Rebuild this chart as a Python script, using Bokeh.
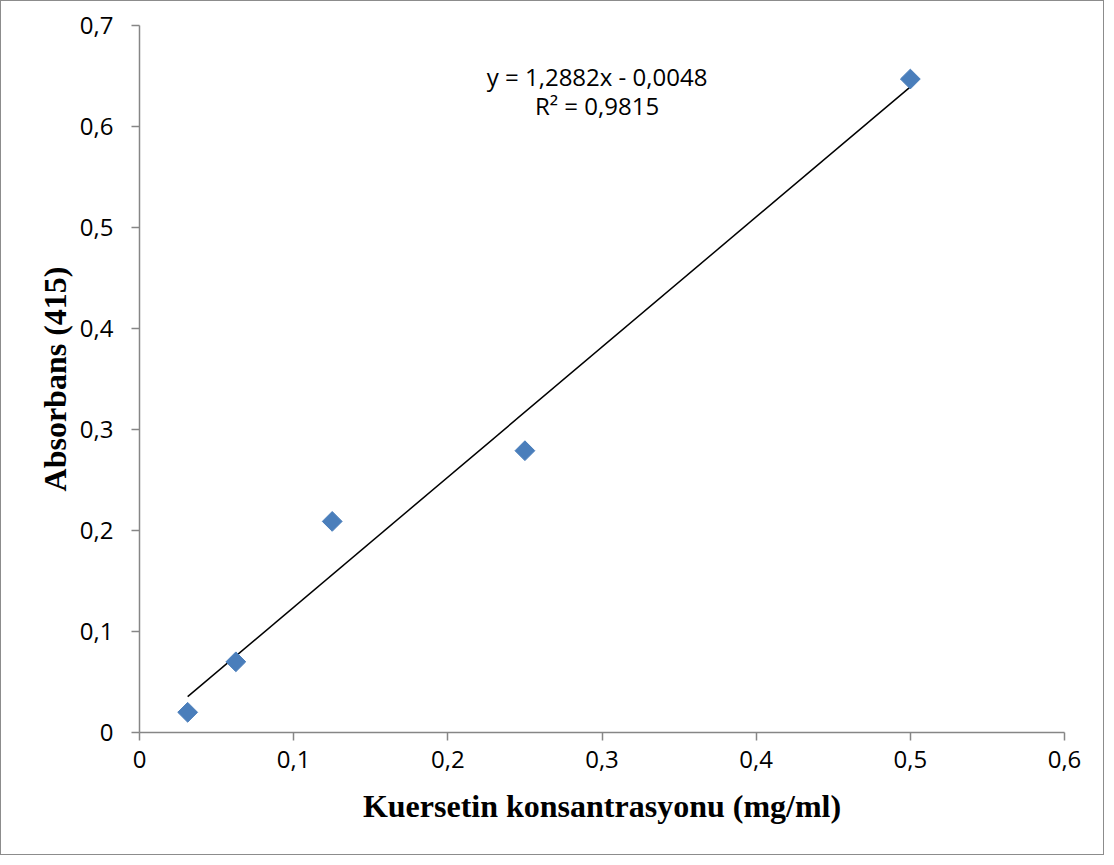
from bokeh.plotting import figure
from bokeh.models import Range1d, FixedTicker, Label
from bokeh.embed import file_html
from bokeh.resources import INLINE
import math

# ---- data ----
concentration = [0.03125, 0.0625, 0.125, 0.25, 0.5]
absorbance = [0.020, 0.070, 0.209, 0.279, 0.647]
slope = 1.2882
intercept = -0.0048
r_squared_text = "R² = 0,9815"
equation_text = "y = 1,2882x - 0,0048"
x_ticks = [0, 0.1, 0.2, 0.3, 0.4, 0.5, 0.6]
x_tick_labels = ["0", "0,1", "0,2", "0,3", "0,4", "0,5", "0,6"]
y_ticks = [0, 0.1, 0.2, 0.3, 0.4, 0.5, 0.6, 0.7]
y_tick_labels = ["0", "0,1", "0,2", "0,3", "0,4", "0,5", "0,6", "0,7"]
x_title = "Kuersetin konsantrasyonu (mg/ml)"
y_title = "Absorbans (415)"

trend_x = [min(concentration), max(concentration)]
trend_y = [slope * v + intercept for v in trend_x]

AXIS_GRAY = "#868686"
TICK_FONT = "Open Sans"
TITLE_FONT = "Liberation Serif"

p = figure(width=1104, height=855, output_backend="svg", toolbar_location=None,
           x_range=Range1d(0, 0.6), y_range=Range1d(0, 0.7),
           min_border_left=138, min_border_right=41, min_border_top=24, min_border_bottom=124)
p.styles = {"border": "1px solid #8c8c8c", "box-sizing": "border-box"}
p.outline_line_color = None
p.xgrid.grid_line_color = None
p.ygrid.grid_line_color = None
p.background_fill_color = "white"
p.border_fill_color = "white"

for ax in (p.xaxis[0], p.yaxis[0]):
    ax.axis_line_color = AXIS_GRAY
    ax.axis_line_width = 1.5
    ax.major_tick_line_color = AXIS_GRAY
    ax.major_tick_line_width = 1.5
    ax.major_tick_out = 8
    ax.major_tick_in = 0
    ax.minor_tick_line_color = None
    ax.major_label_text_font = TICK_FONT
    ax.major_label_text_font_size = "24px"
    ax.major_label_text_color = "black"
    ax.axis_label_text_font = TITLE_FONT
    ax.axis_label_text_font_style = "bold"
    ax.axis_label_text_font_size = "32px"
    ax.axis_label_text_color = "black"

p.xaxis[0].ticker = FixedTicker(ticks=x_ticks)
p.yaxis[0].ticker = FixedTicker(ticks=y_ticks)
p.xaxis[0].major_label_overrides = {t: l for t, l in zip(x_ticks, x_tick_labels)}
p.yaxis[0].major_label_overrides = {t: l for t, l in zip(y_ticks, y_tick_labels)}
p.xaxis[0].major_label_standoff = 10
p.yaxis[0].major_label_standoff = 18
p.xaxis[0].axis_label = x_title
p.yaxis[0].axis_label = y_title
p.xaxis[0].axis_label_standoff = 17
p.yaxis[0].axis_label_standoff = 4

p.line(trend_x, trend_y, line_color="black", line_width=1.5)
p.scatter(concentration, absorbance, marker="square", size=14, angle=math.pi / 4,
          fill_color="#4A7EBB", line_color="#4A7EBB")

p.add_layout(Label(x=0.2968, y=0.6495, text=equation_text, text_font=TICK_FONT,
                   text_font_size="24px", text_align="center", text_baseline="middle",
                   text_color="black"))
p.add_layout(Label(x=0.2968, y=0.6208, text=r_squared_text, text_font=TICK_FONT,
                   text_font_size="24px", text_align="center", text_baseline="middle",
                   text_color="black"))

open("out.html", "w").write(file_html(p, INLINE))
